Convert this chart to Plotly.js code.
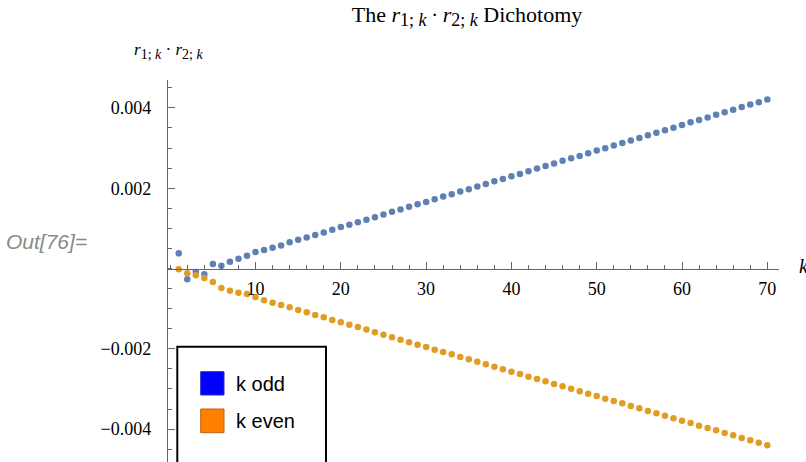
<!DOCTYPE html>
<html>
<head>
<meta charset="utf-8">
<script src="https://cdn.plot.ly/plotly-3.0.1.min.js"></script>
<style>html,body{margin:0;padding:0;background:#fff;}#chart{width:806px;height:462px;}</style>
</head>
<body>
<div id="chart"></div>
<script>
const kOdd = [1,2,3,4,5,6,7,8,9,10,11,12,13,14,15,16,17,18,19,20,21,22,23,24,25,26,27,28,29,30,31,32,33,34,35,36,37,38,39,40,41,42,43,44,45,46,47,48,49,50,51,52,53,54,55,56,57,58,59,60,61,62,63,64,65,66,67,68,69,70];
const kEven = kOdd;
const oddValues = [0.000378,-0.000268,-0.000087,-0.000144,0.000112,0.000070,0.000169,0.000243,0.000318,0.000410,
  0.000460,0.000517,0.000576,0.000651,0.000715,0.000775,0.000832,0.000899,0.000964,0.001031,
  0.001088,0.001155,0.001217,0.001279,0.001346,0.001411,0.001470,0.001535,0.001602,0.001659,
  0.001726,0.001793,0.001851,0.001918,0.001975,0.002042,0.002106,0.002173,0.002231,0.002298,
  0.002355,0.002422,0.002489,0.002553,0.002613,0.002683,0.002745,0.002802,0.002869,0.002936,
  0.002993,0.003060,0.003125,0.003185,0.003249,0.003316,0.003383,0.003440,0.003507,0.003572,
  0.003639,0.003696,0.003763,0.003830,0.003888,0.003954,0.004019,0.004086,0.004143,0.004210];
const evenValues = [-0.000020,-0.000120,-0.000169,-0.000237,-0.000336,-0.000486,-0.000553,-0.000603,-0.000635,-0.000710,
  -0.000792,-0.000852,-0.000909,-0.000966,-0.001033,-0.001091,-0.001158,-0.001215,-0.001282,-0.001340,
  -0.001399,-0.001457,-0.001519,-0.001589,-0.001648,-0.001713,-0.001773,-0.001838,-0.001897,-0.001955,
  -0.002022,-0.002079,-0.002136,-0.002204,-0.002261,-0.002321,-0.002385,-0.002445,-0.002510,-0.002570,
  -0.002627,-0.002694,-0.002751,-0.002809,-0.002876,-0.002931,-0.002993,-0.003058,-0.003117,-0.003175,
  -0.003242,-0.003299,-0.003357,-0.003424,-0.003481,-0.003548,-0.003606,-0.003665,-0.003730,-0.003790,
  -0.003847,-0.003914,-0.003972,-0.004029,-0.004096,-0.004153,-0.004221,-0.004278,-0.004338,-0.004402];
const xTickVals = [10,20,30,40,50,60,70];
const yTickVals = [-0.004,-0.002,0.002,0.004];
const yTickText = ['\u22120.004','\u22120.002','0.002','0.004'];
const legendLabels = ['k odd','k even'];
const sub = (txt, px) => '<sub><span style="font-size:' + px + 'px">' + txt + '</span></sub>';
const titleText = 'The <i>r</i>' + sub('1; <i>k</i>', 18) + '\u2009\u00b7\u2009<i>r</i>' + sub('2; <i>k</i>', 18) + ' Dichotomy';
const yLabelText = '<i>r</i>' + sub('1; <i>k</i>', 14) + ' \u00b7 <i>r</i>' + sub('2; <i>k</i>', 14);
const xLabelText = '<i>k</i>';
const cellLabel = 'Out[76]=';

const W = 806, H = 462;
const M = {l: 168, r: 27, t: 80, b: 0};
const PW = W - M.l - M.r, PH = H - M.t - M.b;
const X = px => (px - M.l) / PW;
const Y = py => (H - M.b - py) / PH;

const xRange = [-0.26, 71.37];
const yRange = [-0.004818, 0.004694];
const serif = 'Liberation Serif, Times New Roman, serif';
const sans = 'Liberation Sans, Arial, sans-serif';
const axisColor = '#666666';

const traces = [
  {x: kOdd, y: oddValues, type: 'scatter', mode: 'markers', name: legendLabels[0],
   marker: {color: '#5e81b5', size: 6.5}, cliponaxis: false, hoverinfo: 'skip'},
  {x: kEven, y: evenValues, type: 'scatter', mode: 'markers', name: legendLabels[1],
   marker: {color: '#e19c24', size: 6.5}, cliponaxis: false, hoverinfo: 'skip'}
];

const layout = {
  width: W, height: H, margin: M, showlegend: false,
  paper_bgcolor: '#fff', plot_bgcolor: '#fff',
  font: {family: serif, size: 18, color: '#000'},
  title: {text: titleText, font: {family: serif, size: 22, color: '#000'},
          x: 467 / W, xref: 'container', xanchor: 'center',
          y: 1 - 14 / H, yref: 'container', yanchor: 'middle'},
  xaxis: {range: xRange, anchor: 'free',
          position: (0 - yRange[0]) / (yRange[1] - yRange[0]),
          showline: true, linecolor: axisColor, linewidth: 1.2,
          zeroline: false, showgrid: false,
          tickmode: 'array', tickvals: xTickVals,
          ticks: 'inside', ticklen: 7, tickwidth: 1, tickcolor: axisColor,
          ticklabelstandoff: 4,
          minor: {dtick: 2, tick0: 0, ticks: 'inside', ticklen: 4, tickcolor: axisColor, showgrid: false},
          tickfont: {family: serif, size: 18, color: '#000'}},
  yaxis: {range: yRange, showline: true, linecolor: axisColor, linewidth: 1.2,
          zeroline: false, showgrid: false,
          tickmode: 'array', tickvals: yTickVals, ticktext: yTickText,
          ticks: 'inside', ticklen: 7, tickwidth: 1, tickcolor: axisColor,
          ticklabelstandoff: 12,
          minor: {dtick: 0.0005, tick0: 0, ticks: 'inside', ticklen: 4, tickcolor: axisColor, showgrid: false},
          tickfont: {family: serif, size: 18, color: '#000'}},
  shapes: [
    {type: 'rect', xref: 'paper', yref: 'paper', x0: X(177.3), x1: X(326), y0: Y(490), y1: Y(346.7),
     line: {color: '#000', width: 2}, fillcolor: '#fff', layer: 'above'},
    {type: 'rect', xref: 'paper', yref: 'paper', x0: X(200.7), x1: X(224), y0: Y(395), y1: Y(371.7),
     line: {color: '#2a2ab0', width: 1}, fillcolor: '#0000ff', layer: 'above'},
    {type: 'rect', xref: 'paper', yref: 'paper', x0: X(200.7), x1: X(224), y0: Y(432.7), y1: Y(409),
     line: {color: '#c0620a', width: 1}, fillcolor: '#ff8000', layer: 'above'}
  ],
  annotations: [
    {text: legendLabels[0], xref: 'paper', yref: 'paper', x: X(234), y: Y(383.5), xanchor: 'left', yanchor: 'middle',
     showarrow: false, font: {family: sans, size: 20, color: '#000'}},
    {text: legendLabels[1], xref: 'paper', yref: 'paper', x: X(234), y: Y(421), xanchor: 'left', yanchor: 'middle',
     showarrow: false, font: {family: sans, size: 20, color: '#000'}},
    {text: yLabelText, xref: 'paper', yref: 'paper', x: X(168), y: Y(51), xanchor: 'center', yanchor: 'middle',
     showarrow: false, font: {family: serif, size: 17, color: '#000'}},
    {text: xLabelText, xref: 'paper', yref: 'paper', x: X(797), y: Y(266), xanchor: 'left', yanchor: 'middle',
     showarrow: false, font: {family: serif, size: 20, color: '#000'}},
    {text: '<i>' + cellLabel + '</i>', xref: 'paper', yref: 'paper', x: X(4), y: Y(241), xanchor: 'left', yanchor: 'middle',
     showarrow: false, font: {family: sans, size: 21, color: '#8a8a8a'}}
  ]
};

Plotly.newPlot('chart', traces, layout, {staticPlot: true, displayModeBar: false});
</script>
</body>
</html>
